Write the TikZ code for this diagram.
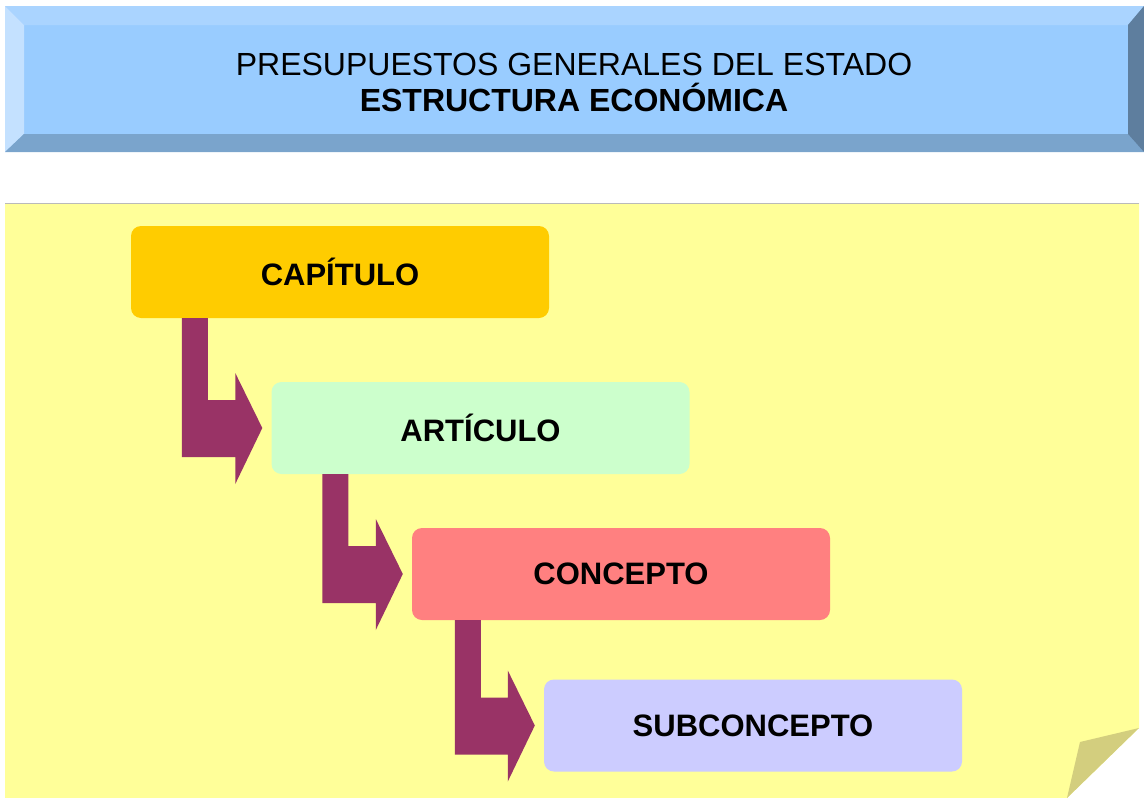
\documentclass[tikz,border=0pt]{standalone}
\usepackage{fontspec}
\setmainfont{Liberation Sans}
\usetikzlibrary{calc}

\definecolor{headmain}{HTML}{99CCFF}
\definecolor{headtop}{HTML}{AAD4FF}
\definecolor{headleft}{HTML}{C4E1FF}
\definecolor{headbottom}{HTML}{7AA4CC}
\definecolor{headright}{HTML}{5E7E9E}
\definecolor{notepaper}{HTML}{FFFF99}
\definecolor{notefold}{HTML}{D3CE7E}
\definecolor{capfill}{HTML}{FFCC00}
\definecolor{artfill}{HTML}{CCFFCC}
\definecolor{confill}{HTML}{FF8080}
\definecolor{subfill}{HTML}{CCCCFF}
\definecolor{steparrow}{HTML}{993366}

\tikzset{
    level/.style={rounded corners=10pt, minimum width=418pt, minimum height=92pt,
        inner sep=0pt, font=\fontsize{31}{36}\selectfont\bfseries},
    stepfill/.style={fill=steparrow}
}

\begin{document}
\begin{tikzpicture}[x=1pt,y=-1pt]
    \useasboundingbox (0,0) rectangle (1144,798);

    % Draw the title banner
    \fill[headmain] (5,6) rectangle (1144,152);
    \fill[headtop] (5,6) -- (1144,6) -- (1128,25) -- (24,25) -- cycle;
    \fill[headleft] (5,6) -- (24,25) -- (24,134) -- (5,152) -- cycle;
    \fill[headbottom] (5,152) -- (24,134) -- (1128,134) -- (1144,152) -- cycle;
    \fill[headright] (1144,6) -- (1128,25) -- (1128,134) -- (1144,152) -- cycle;
    \node[align=center, font=\fontsize{32}{36}\selectfont] (title) at (574,82)
        {PRESUPUESTOS GENERALES DEL ESTADO\\\textbf{ESTRUCTURA ECONÓMICA}};

    % Draw the note paper with its folded corner
    \fill[notepaper] (5,203) -- (1139,203) -- (1139,728) -- (1067,798) -- (5,798) -- cycle;
    \draw[black!27] (5,203.5) -- (1139,203.5);
    \fill[notefold] (1139,728) -- (1080,742) -- (1067,798) -- cycle;

    % Levels of the economic structure
    \node[level, fill=capfill] (cap) at (340,272) {CAPÍTULO};
    \node[level, fill=artfill] (art) at (480.5,428) {ARTÍCULO};
    \node[level, fill=confill] (con) at (621,574) {CONCEPTO};
    \node[level, fill=subfill] (sub) at (753,725.5) {SUBCONCEPTO};

    % Bent arrows from each level to the next
    \foreach \a/\b/\s in {cap/art/51, art/con/51, con/sub/43} {
        \fill[stepfill] ($(\a.south west)+(\s,0)$) |- ($(\b.west)+(-36,29)$)
            -- ($(\b.west)+(-36,56)$) -- ($(\b.west)+(-9,0)$)
            -- ($(\b.west)+(-36,-55)$) -- ($(\b.west)+(-36,-28)$)
            -| ($(\a.south west)+(\s+26,0)$) -- cycle;
    }

\end{tikzpicture}
\end{document}
